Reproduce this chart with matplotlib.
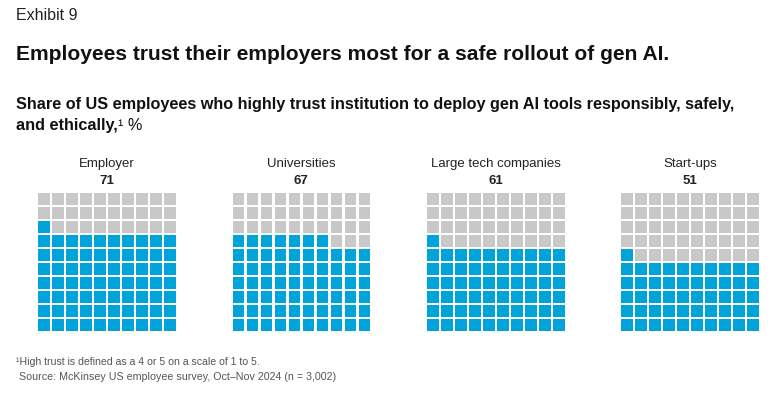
import matplotlib
matplotlib.use("Agg")
import matplotlib.pyplot as plt
from matplotlib.patches import Rectangle

categories = ["Employer", "Universities", "Large tech companies", "Start-ups"]
values = [71, 67, 61, 51]

BLUE = "#00a3da"
GRAY = "#c8c8c8"
FONT = ["Liberation Sans", "DejaVu Sans"]

W, H = 781, 395
fig = plt.figure(figsize=(W / 100, H / 100), dpi=100)
ax = fig.add_axes([0, 0, 1, 1])
ax.set_xlim(0, W)
ax.set_ylim(H, 0)
ax.axis("off")

fig.text(16 / W, 1 - 16 / H, "Exhibit 9", fontsize=11.5, family=FONT, color="#222222",
         va="center", ha="left")
fig.text(16 / W, 1 - 55 / H, "Employees trust their employers most for a safe rollout of gen AI.",
         fontsize=15.1, family=FONT, weight="bold", color="#111111", va="center", ha="left")
fig.text(16 / W, 1 - 105 / H,
         "Share of US employees who highly trust institution to deploy gen AI tools responsibly, safely,",
         fontsize=11.7, family=FONT, weight="bold", color="#111111", va="center", ha="left")
t2 = fig.text(16 / W, 1 - 130 / H, "and ethically,", fontsize=11.7, family=FONT, weight="bold",
              color="#111111", va="baseline", ha="left")
fig.canvas.draw()
bb = t2.get_window_extent()
fig.text((bb.x1 + 0.5) / W, 1 - 130 / H, "¹ %", fontsize=11.7, family=FONT, color="#111111",
         va="baseline", ha="left")

x0s = [38, 232.5, 427, 621]
top = 193
pitch = 14
cell = 11.8

for x0, cat, v in zip(x0s, categories, values):
    cx = x0 + (pitch * 9 + cell) / 2
    ax.text(cx, 164, cat, fontsize=9.5, family=FONT, color="#222222", ha="center", va="center")
    ax.text(cx, 181, str(v), fontsize=9.5, family=FONT, weight="bold", color="#222222",
            ha="center", va="center")
    for k in range(100):
        r = k // 10
        c = k % 10
        y = top + (9 - r) * pitch
        x = x0 + c * pitch
        ax.add_patch(Rectangle((x, y), cell, cell, facecolor=BLUE if k < v else GRAY,
                               edgecolor="none"))

fig.text(16 / W, 1 - 362 / H, "¹High trust is defined as a 4 or 5 on a scale of 1 to 5.",
         fontsize=7.6, family=FONT, color="#555555", va="center", ha="left")
fig.text(16 / W, 1 - 377 / H, " Source: McKinsey US employee survey, Oct–Nov 2024 (n = 3,002)",
         fontsize=7.7, family=FONT, color="#555555", va="center", ha="left")

fig.savefig("out.png", dpi=100, facecolor="white")
